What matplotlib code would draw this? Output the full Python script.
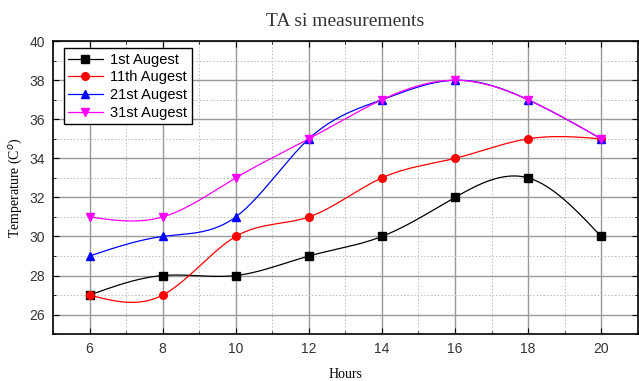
import matplotlib
matplotlib.use("Agg")
import matplotlib.pyplot as plt
import numpy as np

# data
hours = [6, 8, 10, 12, 14, 16, 18, 20]
aug1 = [27, 28, 28, 29, 30, 32, 33, 30]
aug11 = [27, 27, 30, 31, 33, 34, 35, 35]
aug21 = [29, 30, 31, 35, 37, 38, 37, 35]
aug31 = [31, 31, 33, 35, 37, 38, 37, 35]

series = [
    ("1st Augest", aug1, "black", "s"),
    ("11th Augest", aug11, "red", "o"),
    ("21st Augest", aug21, "blue", "^"),
    ("31st Augest", aug31, "magenta", "v"),
]


def spline(x, y, n=200):
    # natural cubic spline, only used to draw the smooth connecting line
    x = np.asarray(x, float)
    y = np.asarray(y, float)
    k = len(x)
    h = np.diff(x)
    A = np.zeros((k, k))
    b = np.zeros(k)
    A[0, 0] = A[-1, -1] = 1
    for i in range(1, k - 1):
        A[i, i - 1] = h[i - 1]
        A[i, i] = 2 * (h[i - 1] + h[i])
        A[i, i + 1] = h[i]
        b[i] = 6 * ((y[i + 1] - y[i]) / h[i] - (y[i] - y[i - 1]) / h[i - 1])
    m = np.linalg.solve(A, b)
    xs = np.linspace(x[0], x[-1], n)
    idx = np.clip(np.searchsorted(x, xs) - 1, 0, k - 2)
    x0, x1 = x[idx], x[idx + 1]
    hh = x1 - x0
    t0, t1 = x1 - xs, xs - x0
    ys = (m[idx] * t0**3 + m[idx + 1] * t1**3) / (6 * hh) \
        + (y[idx] / hh - m[idx] * hh / 6) * t0 \
        + (y[idx + 1] / hh - m[idx + 1] * hh / 6) * t1
    return xs, ys


fig = plt.figure(figsize=(6.39, 3.81), dpi=100)
ax = fig.add_axes([0.083, 0.123, 0.915, 0.769])

for label, vals, col, mk in series:
    xs, ys = spline(hours, vals)
    ax.plot(xs, ys, color=col, lw=0.9, zorder=3)
    ax.plot(hours, vals, linestyle="none", marker=mk, color=col, ms=5.5, zorder=4)
    ax.plot([], [], color=col, marker=mk, ms=5.5, lw=0.9, label=label)

ax.set_xlim(5, 21)
ax.set_ylim(25, 40)
ax.set_xticks(hours)
ax.set_yticks(range(26, 41, 2))
ax.set_xticks(range(5, 22, 2), minor=True)
ax.set_yticks(range(25, 41, 2), minor=True)
ax.grid(which="major", color="#999999", lw=1.0, zorder=1)
ax.grid(which="minor", color="#bbbbbb", lw=0.7, linestyle=(0, (1.5, 2)), zorder=1)
ax.tick_params(which="both", direction="in", top=True, right=True,
               labelsize=10, colors="black", labelcolor="#333333")
ax.tick_params(which="major", length=4, pad=6)
ax.tick_params(which="minor", length=2)
for lab in ax.get_xticklabels() + ax.get_yticklabels():
    lab.set_family("Liberation Sans")
for s in ax.spines.values():
    s.set_linewidth(1.2)

ax.set_title("TA si measurements", family="Liberation Serif", fontsize=14,
             color="#333333", pad=11)
ax.set_xlabel("Hours", family="Liberation Serif", fontsize=10, labelpad=8)
ax.set_ylabel("Temperature (C$^o$)", family="Liberation Serif", fontsize=10, labelpad=3)

leg = ax.legend(loc="upper left", bbox_to_anchor=(0.013, 0.985),
                prop={"family": "Liberation Sans", "size": 10.5},
                fancybox=False, edgecolor="black", framealpha=1,
                handlelength=2.4, borderpad=0.3, labelspacing=0.25, handletextpad=0.5,
                borderaxespad=0.2)
leg.get_frame().set_linewidth(1.0)

fig.savefig("out.png", dpi=100)
